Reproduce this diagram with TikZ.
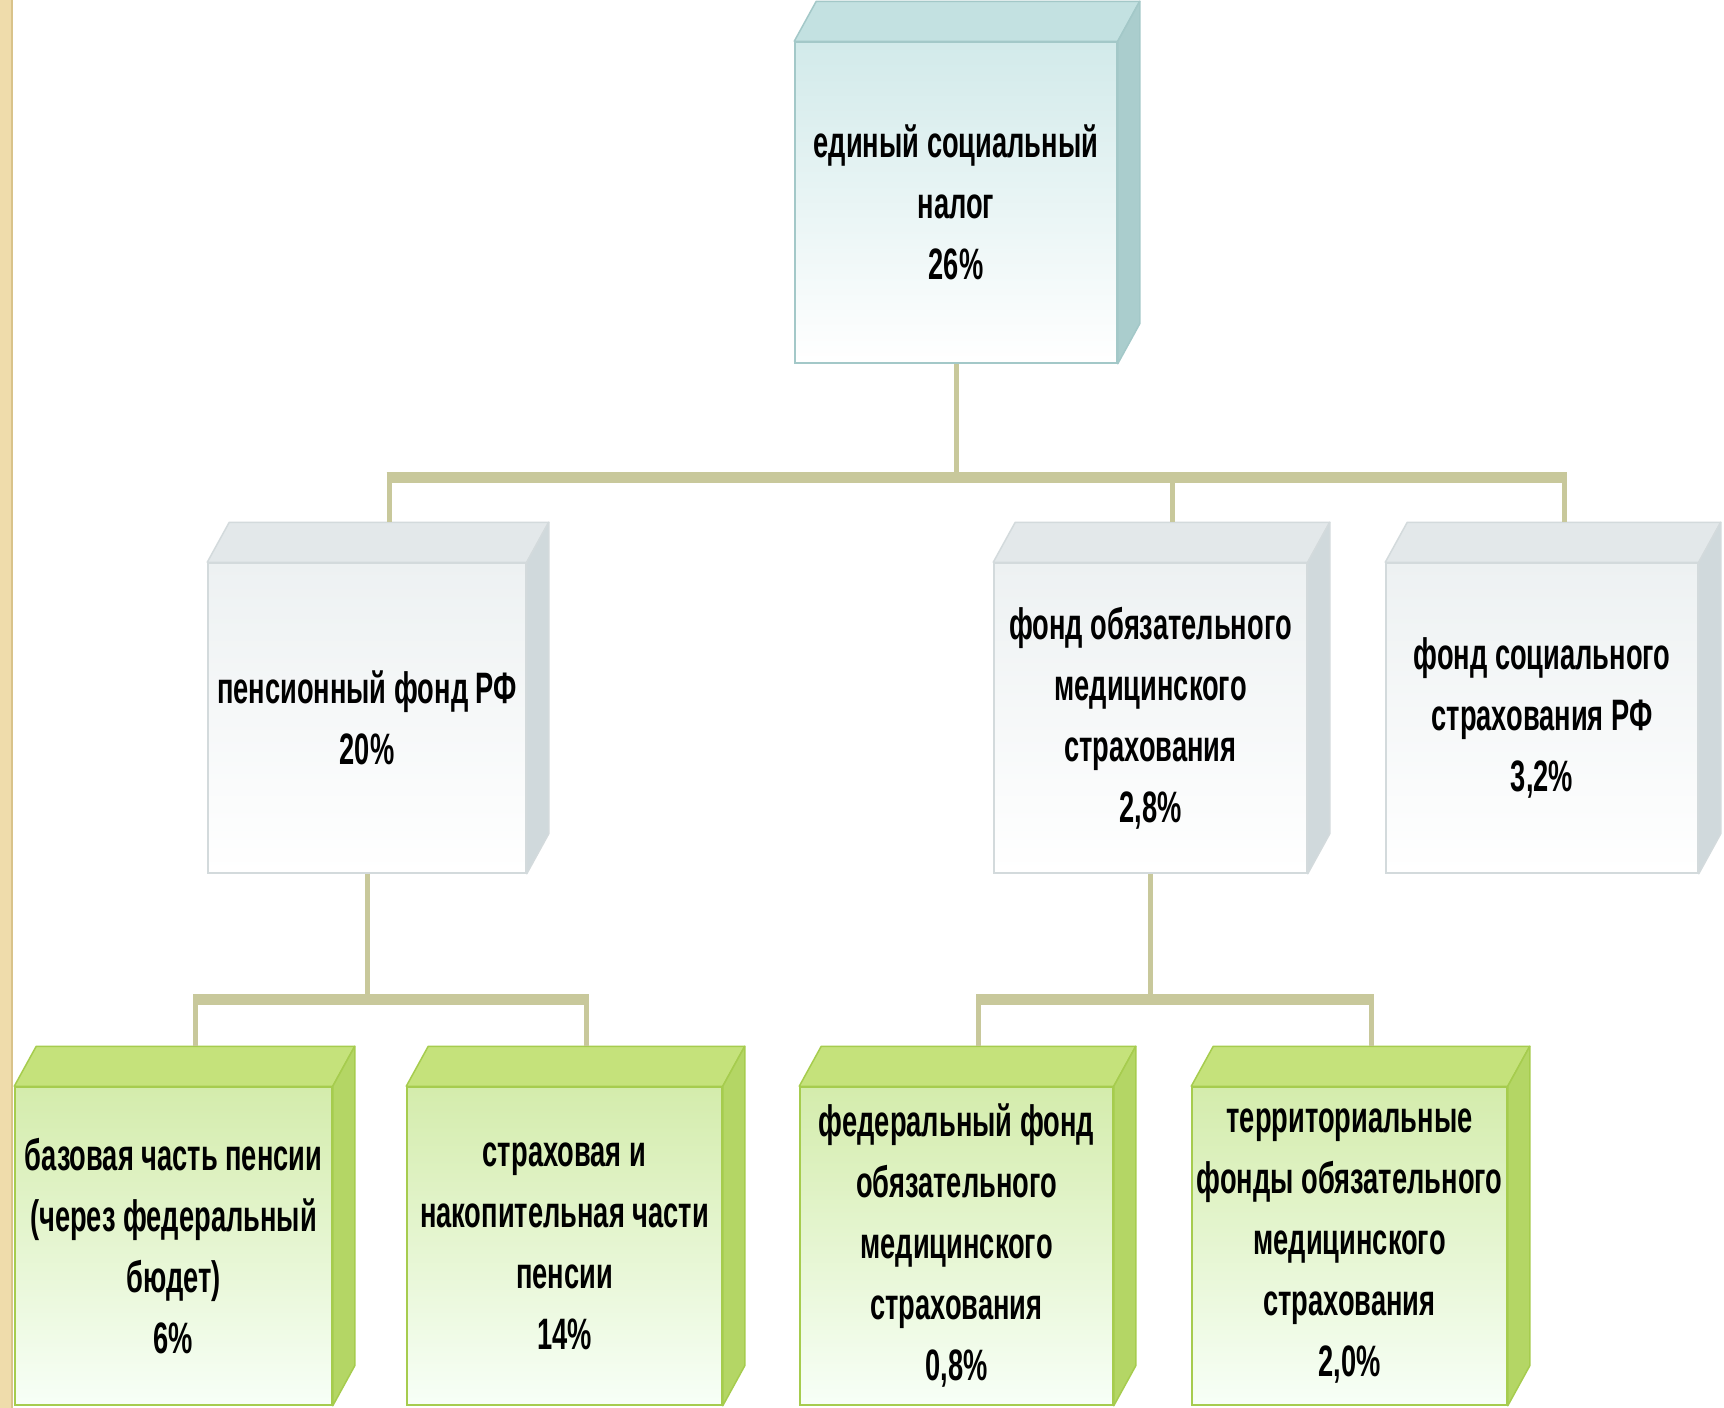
\documentclass[tikz,border=0pt]{standalone}
\usepackage{fontspec}
\newfontfamily\boxfont{Liberation Sans}[FakeStretch=0.62]
\usetikzlibrary{calc}
\definecolor{strip}{HTML}{EFDCAB}
\definecolor{stripedge}{HTML}{D9C38A}
\definecolor{conn}{HTML}{C8C89B}
\definecolor{tealtop}{HTML}{C3E1E1}
\definecolor{tealside}{HTML}{AACDCD}
\definecolor{tealfront}{HTML}{D2EAEA}
\definecolor{tealline}{HTML}{A3C8C8}
\definecolor{greytop}{HTML}{E3E8EA}
\definecolor{greyside}{HTML}{D0D9DC}
\definecolor{greyfront}{HTML}{EDF1F2}
\definecolor{greyline}{HTML}{D3DADC}
\definecolor{greentop}{HTML}{C5E27B}
\definecolor{greenside}{HTML}{B4D665}
\definecolor{greenfront}{HTML}{D4ECAC}
\definecolor{greenline}{HTML}{A6CC4E}
\newcommand\cubefaces[4]{%
  \filldraw[draw=#4, fill=#2, line width=1.5pt, line join=round]
    (#1.north west) -- ++(22,-40) -- ($(#1.north east)+(22,-40)$) -- (#1.north east) -- cycle;
  \filldraw[draw=#4, fill=#3, line width=1.5pt, line join=round]
    (#1.north east) -- ($(#1.north east)+(22,-40)$) -- ($(#1.south east)+(22,-40)$) -- (#1.south east) -- cycle;
}
\tikzset{
  boxbase/.style={rectangle, align=center, inner sep=0pt, line width=1.5pt,
    font=\boxfont\bfseries\fontsize{44}{61}\selectfont, text=black},
  tealbox/.style={boxbase, draw=tealline, top color=tealfront, bottom color=white},
  greybox/.style={boxbase, draw=greyline, top color=greyfront, bottom color=white},
  greenbox/.style={boxbase, draw=greenline, top color=greenfront, bottom color=green!3!white},
  hbar/.style={draw=conn, line width=11pt},
  vline/.style={draw=conn, line width=5pt},
}
\begin{document}
\begin{tikzpicture}[x=1pt,y=-1pt]
\useasboundingbox (0,0) rectangle (1724,1408);
\fill[white] (0,0) rectangle (1724,1408);
\fill[strip] (0,0) rectangle (12,1408);
\draw[stripedge, line width=2pt] (12,0) -- (12,1408);

% nodes (front faces)
\node[tealbox, minimum width=322pt, minimum height=321pt] (tax) at (956,202.5)
  {единый социальный\\налог\\26\%};
\node[greybox, minimum width=318pt, minimum height=310pt] (pf) at (367,718)
  {пенсионный фонд РФ\\20\%};
\node[greybox, minimum width=313pt, minimum height=310pt] (foms) at (1150.5,718)
  {фонд обязательного\\медицинского\\страхования\\2,8\%};
\node[greybox, minimum width=312pt, minimum height=310pt] (fss) at (1542,718)
  {фонд социального\\страхования РФ\\3,2\%};
\node[greenbox, minimum width=317pt, minimum height=318pt] (g1) at (173.5,1246)
  {базовая часть пенсии\\(через федеральный\\бюдет)\\6\%};
\node[greenbox, minimum width=315pt, minimum height=318pt] (g2) at (564.5,1246)
  {страховая и\\накопительная части\\пенсии\\14\%};
\node[greenbox, minimum width=313pt, minimum height=318pt] (g3) at (956.5,1246)
  {федеральный фонд\\обязательного\\медицинского\\страхования\\0,8\%};
\node[greenbox, minimum width=315pt, minimum height=318pt] (g4) at (1349.5,1246)
  {территориальные\\фонды обязательного\\медицинского\\страхования\\2,0\%};

% 3D faces
\cubefaces{tax}{tealtop}{tealside}{tealline}
\cubefaces{pf}{greytop}{greyside}{greyline}
\cubefaces{foms}{greytop}{greyside}{greyline}
\cubefaces{fss}{greytop}{greyside}{greyline}
\cubefaces{g1}{greentop}{greenside}{greenline}
\cubefaces{g2}{greentop}{greenside}{greenline}
\cubefaces{g3}{greentop}{greenside}{greenline}
\cubefaces{g4}{greentop}{greenside}{greenline}

% connector anchor points (back edge centres of top faces)
\coordinate (pfT) at ($(pf.north)+(22,-40)$);
\coordinate (fomsT) at ($(foms.north)+(22,-40)$);
\coordinate (fssT) at ($(fss.north)+(22,-40)$);
\coordinate (g1T) at ($(g1.north)+(22,-40)$);
\coordinate (g2T) at ($(g2.north)+(22,-40)$);
\coordinate (g3T) at ($(g3.north)+(22,-40)$);
\coordinate (g4T) at ($(g4.north)+(22,-40)$);
\coordinate (barA) at (0,477);
\coordinate (barB) at (0,999);

% level 1 connectors
\draw[vline] (tax.south) -- (tax.south |- barA);
\draw[hbar] ($(pfT |- barA)+(-2.5,0)$) -- ($(fssT |- barA)+(2.5,0)$);
\draw[vline] (pfT |- barA) -- (pfT);
\draw[vline] (fomsT |- barA) -- (fomsT);
\draw[vline] (fssT |- barA) -- (fssT);

% level 2 connectors
\draw[vline] (pf.south) -- (pf.south |- barB);
\draw[hbar] ($(g1T |- barB)+(-2.5,0)$) -- ($(g2T |- barB)+(2.5,0)$);
\draw[vline] (g1T |- barB) -- (g1T);
\draw[vline] (g2T |- barB) -- (g2T);
\draw[vline] (foms.south) -- (foms.south |- barB);
\draw[hbar] ($(g3T |- barB)+(-2.5,0)$) -- ($(g4T |- barB)+(2.5,0)$);
\draw[vline] (g3T |- barB) -- (g3T);
\draw[vline] (g4T |- barB) -- (g4T);
\end{tikzpicture}
\end{document}
